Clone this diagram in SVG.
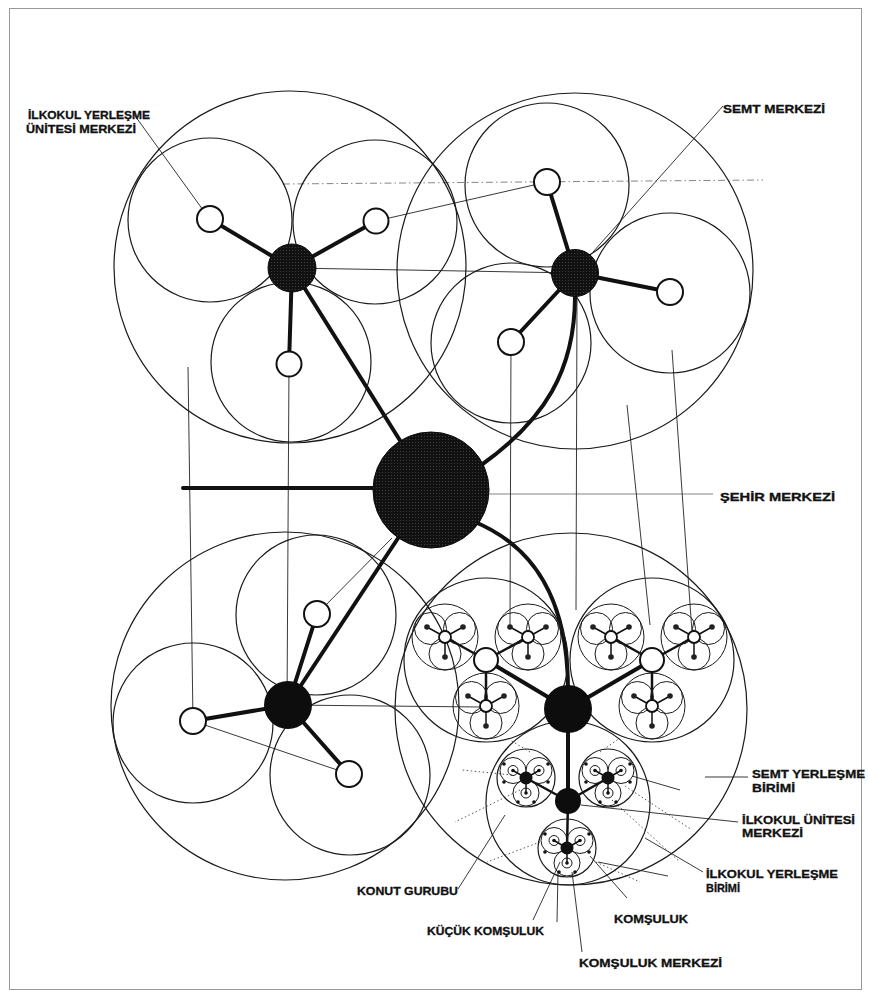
<svg xmlns="http://www.w3.org/2000/svg" width="869" height="997" viewBox="0 0 869 997">
<style>
.c{fill:none;stroke:#1a1a1a;stroke-width:1.2}
.cs{fill:none;stroke:#1a1a1a;stroke-width:1}
.t{fill:none;stroke:#222;stroke-width:0.9}
.tg{fill:none;stroke:#666;stroke-width:0.8}
.dd{fill:none;stroke:#777;stroke-width:0.9;stroke-dasharray:7 3 1.5 3}
.dt{fill:none;stroke:#444;stroke-width:0.9;stroke-dasharray:1.5 2.5}
.k{fill:none;stroke:#111;stroke-width:4;stroke-linecap:round}
.k2{fill:none;stroke:#111;stroke-width:2.5;stroke-linecap:round}
.k1{fill:none;stroke:#111;stroke-width:1.5}
.w{fill:#fff;stroke:#111;stroke-width:2}
.b{fill:url(#ht);stroke:#0a0a0a;stroke-width:1}
.bs{fill:#0d0d0d}
.lbl{font-family:"Liberation Sans",Arial,sans-serif;font-weight:bold;font-size:11px;fill:#111;stroke:#111;stroke-width:0.3}
</style>
<defs>
<pattern id="ht" width="3" height="3" patternUnits="userSpaceOnUse"><rect width="3" height="3" fill="#111"/><circle cx="1.5" cy="1.5" r="0.55" fill="#444"/></pattern>
<g id="miniA">
<circle class="cs" r="33"/>
<circle class="cs" cx="-14.5" cy="-8.5" r="16"/>
<circle class="cs" cx="14.5" cy="-8.5" r="16"/>
<circle class="cs" cx="0" cy="17" r="16"/>
<path class="k1" d="M0,0L-18,-10M0,0L18,-10M0,0L0,20"/>
<circle cx="-18" cy="-10" r="2.8" fill="#222"/>
<circle cx="18" cy="-10" r="2.8" fill="#222"/>
<circle cx="0" cy="20" r="2.8" fill="#222"/>
<circle r="6" fill="#fff" stroke="#111" stroke-width="1.8"/>
</g>
<g id="medA">
<circle class="c" r="82"/>
<path class="k2" d="M0,0L-41,-23M0,0L42,-23M0,0L0,46"/>
<use href="#miniA" x="-41" y="-23"/>
<use href="#miniA" x="42" y="-23"/>
<use href="#miniA" x="0" y="46"/>
<circle r="12" class="w"/>
</g>
<g id="miniB">
<circle class="c" r="29"/>
<path class="k1" d="M0,0L-13,-7.5M0,0L13,-7.5M0,0L0,15"/>
<circle class="cs" cx="-13" cy="-7.5" r="13"/>
<circle class="cs" cx="13" cy="-7.5" r="13"/>
<circle class="cs" cx="0" cy="15" r="13"/>
<circle class="cs" cx="-13" cy="-7.5" r="5"/>
<circle class="cs" cx="13" cy="-7.5" r="5"/>
<circle class="cs" cx="0" cy="15" r="5"/>
<circle cx="-13" cy="-7.5" r="1.8" fill="#111"/>
<circle cx="13" cy="-7.5" r="1.8" fill="#111"/>
<circle cx="0" cy="15" r="1.8" fill="#111"/>
<circle cx="-22" cy="-14" r="1.8" fill="#111"/>
<circle cx="22" cy="-14" r="1.8" fill="#111"/>
<circle cx="-22" cy="4" r="1.8" fill="#111"/>
<circle cx="22" cy="4" r="1.8" fill="#111"/>
<circle cx="-8" cy="24" r="1.8" fill="#111"/>
<circle cx="8" cy="24" r="1.8" fill="#111"/>
<circle r="6.5" fill="#111"/>
</g>
</defs>

<rect x="9.5" y="8.5" width="852" height="981" fill="none" stroke="#999" stroke-width="1"/>

<g id="connectors">
<path class="dd" d="M283,184L763,180"/>
<path class="t" d="M376,221L547,182"/>
<path class="t" d="M292,268L575,273"/>
<path class="t" d="M133,113L203,210"/>
<path class="t" d="M723,106L593,252"/>
<path class="tg" d="M489,494L713,494"/>
<path class="t" d="M188,367L193,721"/>
<path class="t" d="M289,364L287,705"/>
<path class="t" d="M511,342L510,625"/>
<path class="t" d="M577,296L576,610"/>
<path class="t" d="M627,405L650,625"/>
<path class="t" d="M672,350L692,632"/>
<path class="t" d="M317,614L392,538"/>
<path class="t" d="M193,721L349,774"/>
<path class="t" d="M288,705L480,707"/>
<path class="k" d="M292,268L431,490"/>
<path class="k" d="M288,705L410,520"/>
<path class="k" stroke-width="4.5" d="M183,488L380,488"/>
<path class="k" stroke-width="3.2" d="M575,296C575,370 545,420 480,466"/>
<path class="k" stroke-width="3.2" d="M470,520C535,545 568,600 568,690"/>
<path class="t" d="M705,777L748,777"/>
<path class="t" d="M581,805L738,822"/>
<path class="t" d="M645,838L703,872"/>
<path class="t" d="M458,889L505,815"/>
<path class="t" d="M533,920L560,862"/>
<path class="t" d="M557,922L558,872"/>
<path class="t" d="M582,952L572,872"/>
<path class="t" d="M627,898L590,856"/>
<path class="t" d="M598,862L668,876"/>
<path class="dt" d="M520,790L455,822"/>
<path class="dt" d="M512,775L462,770"/>
<path class="dt" d="M540,842L487,862"/>
<path class="dt" d="M625,786L692,830"/>
<path class="dt" d="M612,800L680,862"/>
<path class="dt" d="M596,862L640,882"/>
<path class="t" d="M632,776L680,790"/>
<path class="dt" d="M530,752L510,740"/>
<path class="dt" d="M600,752L620,738"/>
</g>

<g id="semt-tl">
<circle class="c" cx="290" cy="267" r="176"/>
<circle class="c" cx="210" cy="220" r="82"/>
<circle class="c" cx="375" cy="222" r="82"/>
<circle class="c" cx="291" cy="362" r="80"/>
<path class="k" d="M292,268L210,219M292,268L376,221M292,268L289,364"/>
<circle class="w" cx="210" cy="219" r="13"/>
<circle class="w" cx="376" cy="221" r="12.5"/>
<circle class="w" cx="289" cy="364" r="12.5"/>
<circle class="b" cx="292" cy="268" r="24"/>
</g>

<g id="semt-tr">
<circle class="c" cx="575" cy="271" r="178"/>
<circle class="c" cx="547" cy="185" r="82"/>
<circle class="c" cx="670" cy="293" r="80"/>
<circle class="c" cx="511" cy="343" r="80"/>
<path class="k" d="M575,273L547,182M575,273L670,292M575,273L511,342"/>
<circle class="w" cx="547" cy="182" r="13"/>
<circle class="w" cx="670" cy="292" r="13"/>
<circle class="w" cx="511" cy="342" r="13"/>
<circle class="b" cx="575" cy="273" r="23.5"/>
</g>

<g id="semt-bl">
<circle class="c" cx="285" cy="706" r="174"/>
<circle class="c" cx="316" cy="615" r="80"/>
<circle class="c" cx="193" cy="723" r="80"/>
<circle class="c" cx="350" cy="775" r="80"/>
<path class="k" d="M288,705L317,614M288,705L193,721M288,705L349,774"/>
<circle class="w" cx="317" cy="614" r="13"/>
<circle class="w" cx="193" cy="721" r="13"/>
<circle class="w" cx="349" cy="774" r="13"/>
<circle class="bs" cx="288" cy="705" r="24"/>
</g>

<g id="semt-br">
<circle class="c" cx="571" cy="709" r="176"/>
<path class="k" d="M568,709L486,660M568,709L652,660M568,709L568,790"/>
<use href="#medA" x="486" y="660"/>
<use href="#medA" x="652" y="660"/>
<circle class="c" cx="568" cy="803" r="82"/>
<path class="k2" d="M568,801L526,778M568,801L608,778M568,801L567,848"/>
<use href="#miniB" x="526" y="778"/>
<use href="#miniB" x="608" y="778"/>
<use href="#miniB" x="567" y="848"/>
<circle class="bs" cx="568" cy="801" r="13"/>
<circle class="bs" cx="568" cy="709" r="24"/>
</g>

<g id="sehir-merkezi">
<circle class="b" cx="431" cy="490" r="58"/>
</g>

<g id="labels">
<text class="lbl" x="28" y="119" textLength="122" lengthAdjust="spacingAndGlyphs">İLKOKUL YERLEŞME</text>
<text class="lbl" x="26" y="133" textLength="110" lengthAdjust="spacingAndGlyphs">ÜNİTESİ MERKEZİ</text>
<text class="lbl" x="723" y="113" font-size="12" textLength="102" lengthAdjust="spacingAndGlyphs">SEMT MERKEZİ</text>
<text class="lbl" x="720" y="501" font-size="12" textLength="115" lengthAdjust="spacingAndGlyphs">ŞEHİR MERKEZİ</text>
<text class="lbl" x="752" y="778" textLength="113" lengthAdjust="spacingAndGlyphs">SEMT YERLEŞME</text>
<text class="lbl" x="752" y="792" textLength="43" lengthAdjust="spacingAndGlyphs">BİRİMİ</text>
<text class="lbl" x="742" y="824" textLength="113" lengthAdjust="spacingAndGlyphs">İLKOKUL ÜNİTESİ</text>
<text class="lbl" x="742" y="837" textLength="61" lengthAdjust="spacingAndGlyphs">MERKEZİ</text>
<text class="lbl" x="706" y="878" textLength="132" lengthAdjust="spacingAndGlyphs">İLKOKUL YERLEŞME</text>
<text class="lbl" x="706" y="892" textLength="34" lengthAdjust="spacingAndGlyphs">BİRİMİ</text>
<text class="lbl" x="357" y="895" textLength="101" lengthAdjust="spacingAndGlyphs">KONUT GURUBU</text>
<text class="lbl" x="427" y="935" textLength="117" lengthAdjust="spacingAndGlyphs">KÜÇÜK KOMŞULUK</text>
<text class="lbl" x="614" y="923" textLength="74" lengthAdjust="spacingAndGlyphs">KOMŞULUK</text>
<text class="lbl" x="579" y="967" textLength="143" lengthAdjust="spacingAndGlyphs">KOMŞULUK MERKEZİ</text>
</g>
</svg>
